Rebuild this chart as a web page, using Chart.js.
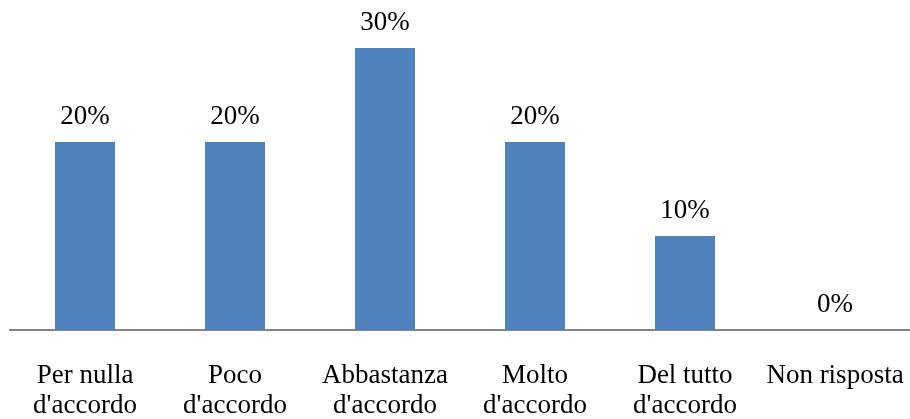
<!DOCTYPE html>
<html>
<head>
<meta charset="utf-8">
<script src="https://cdn.jsdelivr.net/npm/chart.js@4"></script>
<style>
html,body{margin:0;padding:0;background:#fff;}
#wrap{width:910px;height:419px;position:relative;}
</style>
</head>
<body>
<div id="wrap"><canvas id="c" width="910" height="419"></canvas></div>
<script>
const categories = [
  ["Per nulla", "d'accordo"],
  ["Poco", "d'accordo"],
  ["Abbastanza", "d'accordo"],
  ["Molto", "d'accordo"],
  ["Del tutto", "d'accordo"],
  ["Non risposta"]
];
const percentValues = [20, 20, 30, 20, 10, 0];

const FONT = "'Liberation Serif', 'Times New Roman', serif";

const valueLabels = {
  id: 'valueLabels',
  afterDatasetsDraw(chart) {
    const ctx = chart.ctx;
    const meta = chart.getDatasetMeta(0);
    ctx.save();
    ctx.font = "27px " + FONT;
    ctx.fillStyle = '#000';
    ctx.textAlign = 'center';
    ctx.textBaseline = 'alphabetic';
    meta.data.forEach((bar, i) => {
      ctx.fillText(percentValues[i] + '%', bar.x, bar.y - 18);
    });
    ctx.restore();
  }
};

new Chart(document.getElementById('c'), {
  type: 'bar',
  data: {
    labels: categories,
    datasets: [{
      data: percentValues,
      backgroundColor: '#4F81BD',
      borderWidth: 0,
      categoryPercentage: 0.8,
      barPercentage: 0.5
    }]
  },
  options: {
    responsive: false,
    animation: false,
    events: [],
    layout: { padding: { left: 10, right: 0, top: 1, bottom: 0 } },
    plugins: { legend: { display: false }, tooltip: { enabled: false } },
    scales: {
      x: {
        grid: { display: false, drawTicks: false },
        border: { display: true, color: '#868686', width: 2 },
        ticks: {
          color: '#000',
          font: { family: FONT, size: 27, lineHeight: 1.1 },
          padding: 31,
          maxRotation: 0,
          autoSkip: false
        },
        afterFit(scale) {
          scale.height = 89;
          scale.paddingLeft = 0;
          scale.paddingRight = 0;
        }
      },
      y: {
        display: false,
        min: 0,
        max: 35
      }
    }
  },
  plugins: [valueLabels]
});
</script>
</body>
</html>
